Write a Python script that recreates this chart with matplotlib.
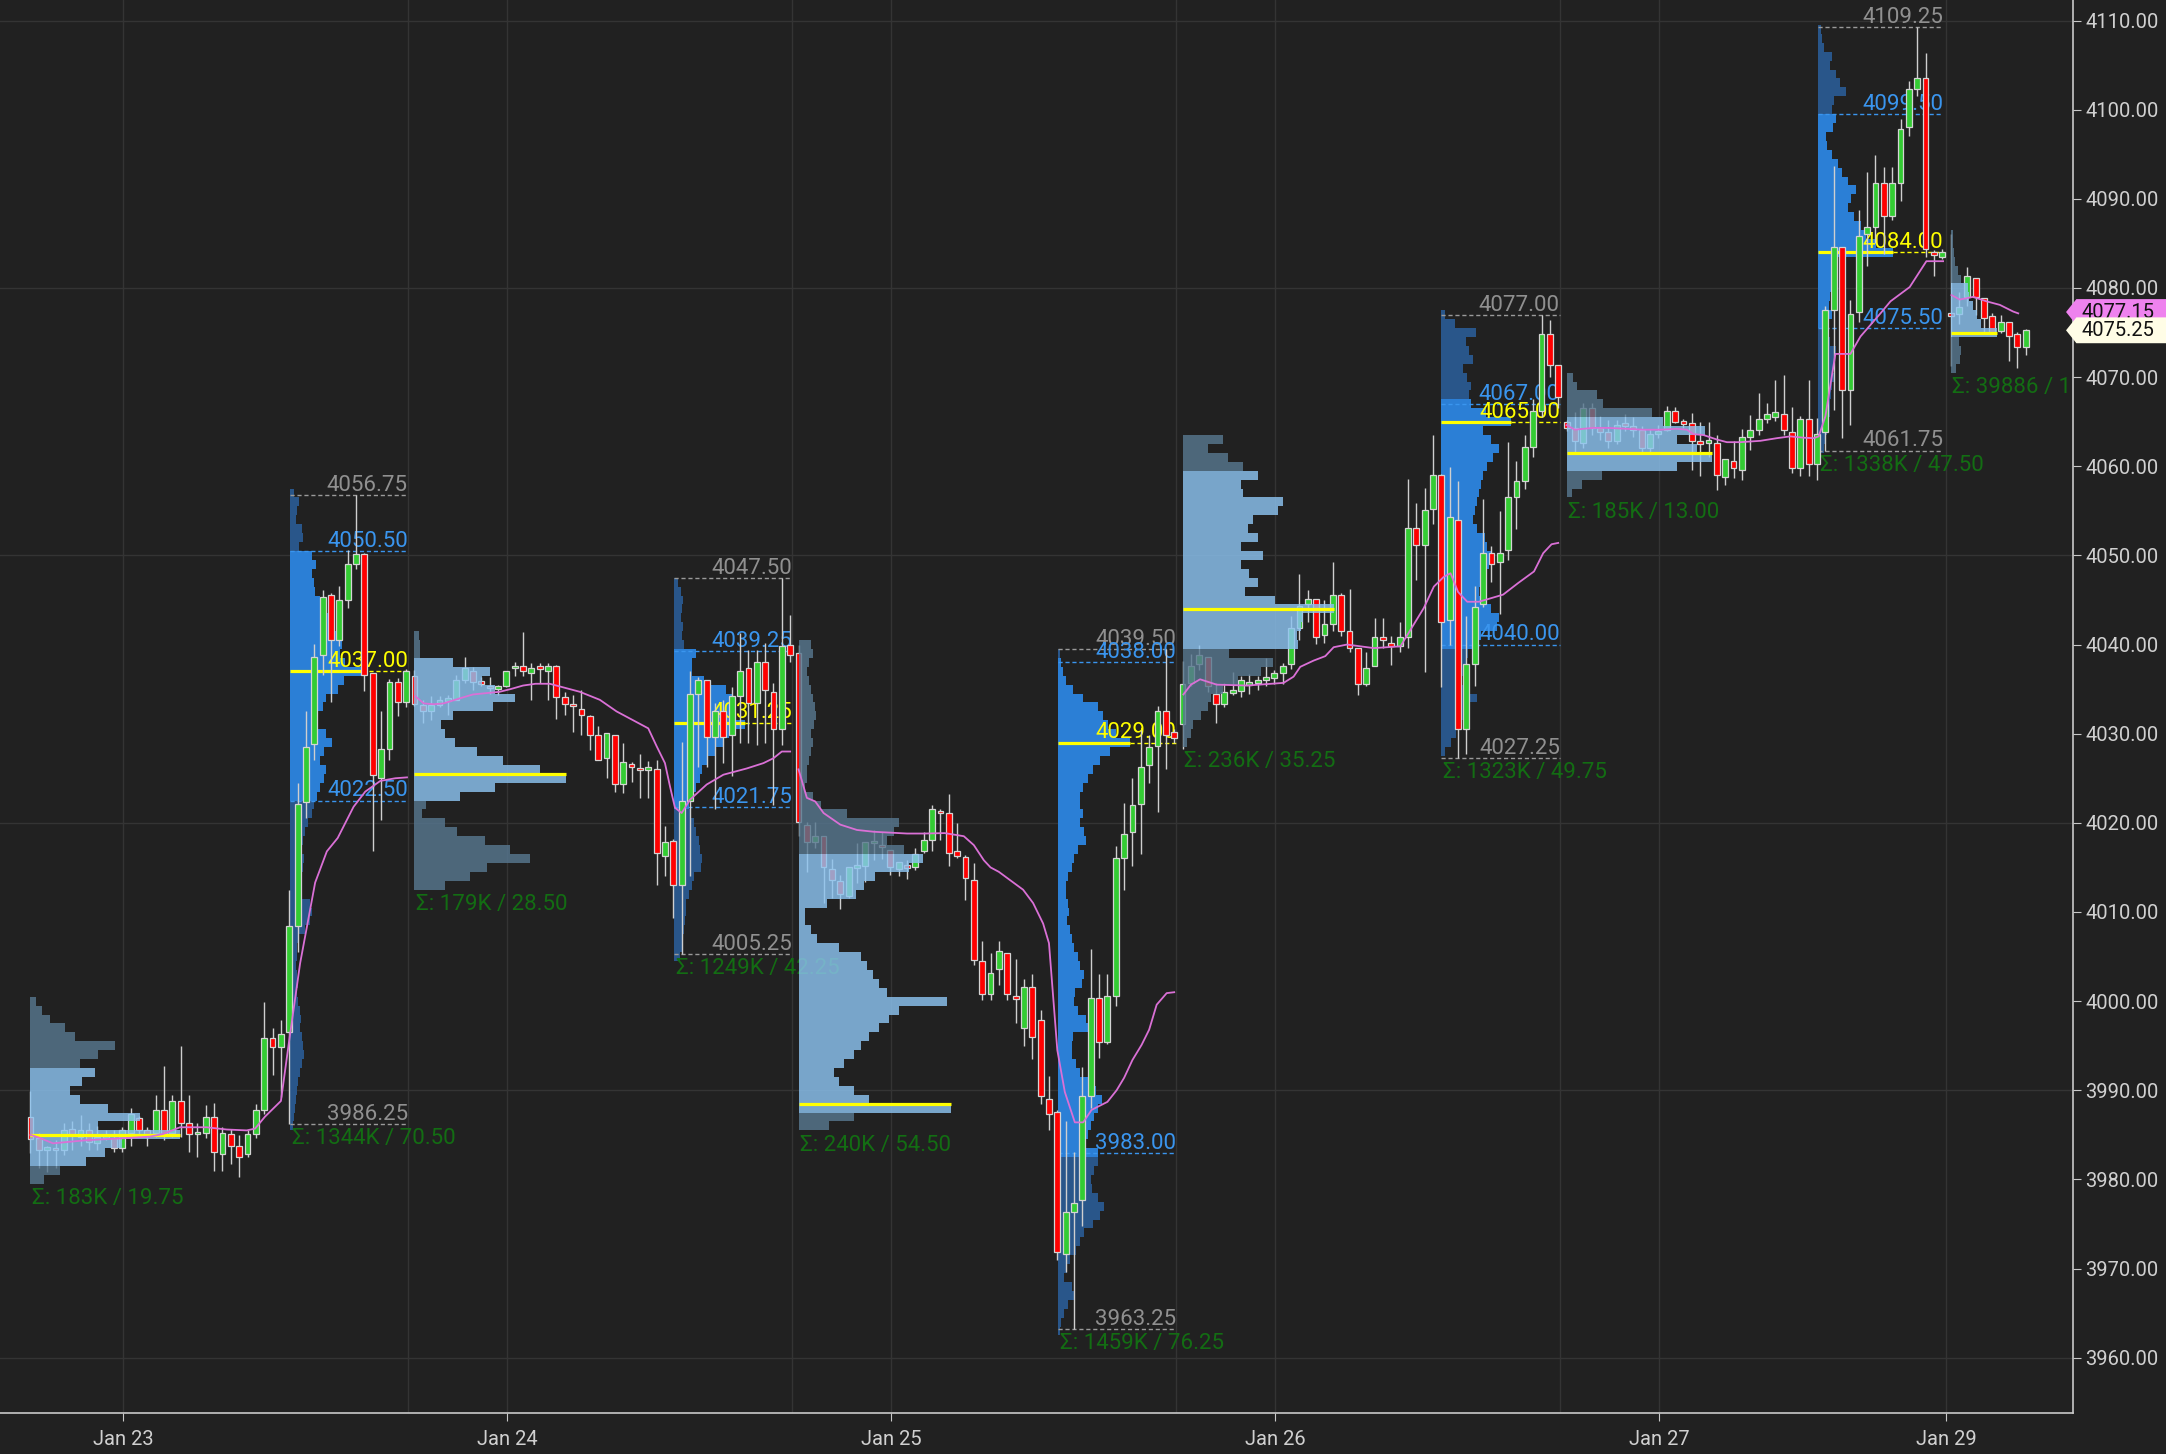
import matplotlib
matplotlib.use("Agg")
import matplotlib.pyplot as plt
import matplotlib.transforms as mtransforms
from matplotlib.patches import Polygon
import numpy as np

plt.rcParams['font.family'] = ['Roboto', 'DejaVu Sans']

# 30 minute bars, bar 0 = first bar of the Jan 22 evening session
opens = [
    # overnight Jan 22/23
    3987.0, 3984.7, 3983.4, 3983.5, 3983.3, 3985.7, 3984.8, 3985.55, 3984.1, 3984.8, 3984.7,
    3983.5, 3985.25, 3986.9, 3985.55, 3985.25, 3987.8, 3985.25, 3988.8, 3986.3, 3985.1, 3985.25,
    3987.0, 3982.8, 3985.1, 3983.8, 3982.8, 3985.1, 3987.8, 3995.85, 3994.85,
    # day Jan 23
    3996.5, 4008.4, 4022.3, 4028.8, 4038.8, 4045.55, 4040.55, 4045.05, 4049.0, 4050.2, 4036.8,
    4025.05, 4028.3, 4035.8, 4033.55,
    # overnight
    4036.5, 4033.2, 4032.6, 4033.2, 4033.8, 4033.8, 4036.0, 4037.0, 4035.85, 4035.4, 4035.0,
    4035.35, 4037.4, 4037.55, 4036.8, 4037.55, 4037.05, 4037.55, 4034.1, 4033.3, 4032.75, 4032.0,
    4029.9, 4027.25, 4029.9, 4024.4, 4026.6, 4026.2, 4026.05, 4026.0, 4016.3,
    # day Jan 24
    4018.0, 4013.0, 4022.4, 4034.5, 4036.0, 4029.6, 4032.5, 4029.9, 4034.2, 4037.35, 4033.4,
    4038.0, 4034.7, 4030.5, 4040.0,
    # overnight
    4039.0, 4019.8, 4017.8, 4018.5, 4014.8, 4013.5, 4011.8, 4015.0, 4015.2, 4017.8, 4017.5,
    4017.0, 4014.8, 4015.25, 4015.0, 4016.8, 4018.1, 4021.3, 4021.1, 4016.85, 4016.2, 4013.6,
    4004.55, 4000.8, 4003.6, 4005.4, 4000.5, 3997.0, 4001.6, 3997.85, 3989.0,
    # day Jan 25
    3987.6, 3971.6, 3976.4, 3977.65, 3989.4, 4000.3, 3995.4, 4000.55, 4016.1, 4018.95, 4022.1,
    4026.5, 4028.6, 4032.6, 4030.2,
    # overnight
    4031.1, 4035.7, 4037.8, 4038.6, 4034.5, 4033.3, 4034.6, 4034.8, 4035.6, 4035.7, 4036.0,
    4036.3, 4036.8, 4037.8, 4041.8, 4044.6, 4045.1, 4041.1, 4042.3, 4045.6, 4041.5, 4039.6,
    4035.55, 4037.6, 4040.8, 4040.2, 4039.85, 4040.8, 4053.05, 4051.2, 4055.2,
    # day Jan 26
    4059.0, 4042.7, 4054.0, 4030.5, 4037.8, 4044.5, 4050.25, 4049.3, 4050.6, 4056.5, 4058.3,
    4062.2, 4066.25, 4074.85, 4071.4,
    # overnight
    4065.0, 4064.3, 4062.6, 4066.5, 4064.3, 4063.8, 4062.8, 4064.8, 4064.5, 4064.1, 4062.0,
    4063.6, 4064.1, 4066.25, 4065.0, 4064.8, 4062.8, 4062.7, 4062.6, 4058.8, 4060.6, 4059.6,
    4063.3, 4064.1, 4065.3, 4065.5, 4065.9, 4063.8, 4059.8, 4065.3, 4060.3,
    # day Jan 27
    4063.8, 4077.5, 4084.6, 4068.6, 4077.3, 4086.0, 4086.8, 4091.75, 4088.1, 4091.75, 4098.0,
    4102.3, 4103.5, 4084.0, 4083.5,
    # Sunday evening
    4077.1, 4077.1, 4079.0, 4081.1, 4078.85, 4076.9, 4075.2, 4076.2, 4074.8, 4073.4,
]
highs = [
    3989.9, 3985.2, 3983.8, 3984.4, 3986.3, 3986.5, 3987.2, 3986.3, 3986.0, 3985.5, 3985.55,
    3985.9, 3988.0, 3987.1, 3985.85, 3989.5, 3992.7, 3989.5, 3995.0, 3989.5, 3986.3, 3988.4,
    3988.55, 3985.9, 3985.7, 3985.0, 3985.5, 3988.5, 3999.9, 3997.0, 3997.9,
    4012.5, 4024.5, 4032.55, 4040.05, 4046.1, 4045.8, 4046.55, 4050.6, 4056.75, 4050.3, 4036.8,
    4032.55, 4036.1, 4036.3, 4037.3,
    4037.2, 4033.8, 4034.2, 4034.2, 4034.35, 4036.6, 4038.65, 4037.5, 4036.4, 4036.4, 4035.5,
    4037.05, 4038.0, 4041.4, 4037.9, 4037.9, 4037.9, 4037.7, 4034.7, 4034.35, 4034.9, 4032.1,
    4030.9, 4030.05, 4029.9, 4028.9, 4026.8, 4027.7, 4026.9, 4027.1, 4019.65,
    4018.2, 4029.1, 4037.0, 4036.4, 4036.05, 4033.4, 4033.8, 4035.2, 4041.3, 4039.4, 4039.4,
    4040.15, 4035.7, 4047.5, 4043.3,
    4040.0, 4020.1, 4020.1, 4018.5, 4015.9, 4014.2, 4015.0, 4017.7, 4017.8, 4019.2, 4019.0,
    4017.0, 4015.6, 4015.8, 4017.2, 4019.0, 4022.0, 4021.6, 4023.25, 4020.0, 4016.4, 4015.5,
    4006.7, 4005.4, 4006.7, 4005.4, 4004.7, 4002.5, 4003.0, 3999.0, 3991.55,
    3987.8, 3986.5, 3983.1, 3992.6, 4005.8, 4003.0, 4003.0, 4017.4, 4022.2, 4025.0, 4030.4,
    4029.9, 4033.1, 4039.5, 4030.5,
    4038.2, 4038.95, 4039.9, 4038.6, 4035.7, 4035.7, 4036.9, 4036.5, 4036.7, 4036.5, 4038.5,
    4037.2, 4037.9, 4043.2, 4047.9, 4046.1, 4045.1, 4045.0, 4049.3, 4045.8, 4046.2, 4039.6,
    4039.2, 4042.95, 4042.95, 4041.0, 4042.5, 4058.6, 4055.85, 4057.6, 4063.5,
    4059.1, 4059.9, 4058.4, 4043.2, 4046.6, 4056.3, 4051.1, 4055.0, 4062.7, 4060.6, 4063.5,
    4067.5, 4077.0, 4076.4, 4071.4,
    4065.2, 4066.1, 4067.1, 4067.1, 4065.6, 4065.2, 4065.2, 4065.9, 4065.5, 4064.5, 4064.2,
    4064.6, 4066.8, 4066.6, 4065.3, 4066.0, 4065.0, 4065.0, 4063.5, 4060.8, 4062.8, 4064.2,
    4065.8, 4068.2, 4067.1, 4069.7, 4070.2, 4066.7, 4065.6, 4069.7, 4065.4,
    4078.0, 4093.7, 4084.6, 4078.7, 4088.7, 4093.0, 4094.9, 4093.6, 4093.6, 4098.9, 4103.2,
    4109.25, 4106.3, 4084.3, 4084.4,
    4086.0, 4079.6, 4082.4, 4081.1, 4078.85, 4077.2, 4077.0, 4076.2, 4075.1, 4075.4,
]
lows = [
    3983.0, 3981.3, 3980.8, 3981.3, 3982.75, 3983.3, 3983.7, 3983.3, 3983.3, 3984.4, 3983.1,
    3983.1, 3983.75, 3984.8, 3983.75, 3984.8, 3984.4, 3984.8, 3984.8, 3983.05, 3982.5, 3984.6,
    3980.9, 3981.0, 3981.75, 3980.25, 3982.5, 3984.6, 3987.3, 3991.75, 3989.3,
    3986.25, 4005.5, 4020.5, 4027.0, 4036.55, 4033.55, 4039.8, 4044.05, 4048.5, 4034.8, 4016.8,
    4020.3, 4027.0, 4032.0, 4033.0,
    4033.1, 4031.2, 4031.5, 4033.0, 4032.1, 4033.8, 4035.7, 4034.9, 4035.3, 4034.5, 4034.35,
    4035.2, 4036.5, 4036.5, 4033.8, 4035.7, 4033.8, 4031.7, 4032.1, 4030.2, 4029.9, 4028.2,
    4027.05, 4025.0, 4023.5, 4023.3, 4024.6, 4022.8, 4022.8, 4013.0, 4014.05,
    4009.3, 4005.25, 4014.0, 4026.3, 4026.3, 4021.6, 4026.7, 4025.2, 4028.9, 4028.9, 4028.7,
    4028.9, 4022.0, 4028.7, 4038.0,
    4018.5, 4014.5, 4017.2, 4011.0, 4011.55, 4010.3, 4011.55, 4013.2, 4013.4, 4015.85, 4015.9,
    4014.2, 4014.0, 4013.75, 4014.7, 4016.6, 4016.8, 4018.1, 4015.2, 4016.0, 4011.3, 4004.0,
    4000.1, 4000.1, 4001.8, 4000.1, 3997.5, 3995.0, 3993.5, 3988.5, 3985.6,
    3971.0, 3969.6, 3963.25, 3974.8, 3988.0, 3993.6, 3995.2, 3999.4, 4012.5, 4015.2, 4016.5,
    4024.5, 4021.2, 4026.0, 4028.9,
    4028.3, 4035.3, 4037.2, 4034.7, 4031.25, 4033.0, 4034.3, 4034.1, 4034.5, 4034.9, 4035.4,
    4035.6, 4035.6, 4037.3, 4040.5, 4042.5, 4040.1, 4040.2, 4041.5, 4041.0, 4039.2, 4034.3,
    4035.3, 4037.6, 4039.6, 4037.7, 4039.2, 4039.6, 4047.25, 4036.9, 4053.5,
    4035.2, 4040.0, 4027.25, 4027.7, 4035.4, 4044.2, 4047.0, 4043.4, 4049.5, 4053.0, 4057.5,
    4061.0, 4065.5, 4070.0, 4066.5,
    4064.0, 4061.5, 4062.0, 4063.5, 4062.9, 4062.0, 4062.5, 4063.9, 4063.3, 4061.5, 4061.6,
    4063.2, 4064.0, 4064.8, 4064.3, 4059.6, 4058.9, 4061.0, 4057.35, 4057.9, 4058.7, 4058.5,
    4061.8, 4063.5, 4064.9, 4065.1, 4063.5, 4059.2, 4058.9, 4058.9, 4058.5,
    4061.75, 4066.3, 4063.2, 4064.6, 4076.2, 4082.5, 4085.0, 4083.8, 4087.6, 4089.8, 4097.0,
    4101.5, 4083.5, 4081.3, 4083.2,
    4071.2, 4076.0, 4078.0, 4077.0, 4074.9, 4074.9, 4074.9, 4071.8, 4071.0, 4072.5,
]
closes = [
    3984.5, 3983.3, 3983.6, 3983.3, 3985.5, 3985.1, 3985.55, 3984.25, 3984.8, 3984.9, 3983.5,
    3985.55, 3987.35, 3985.55, 3985.0, 3987.8, 3985.1, 3988.8, 3986.3, 3985.1, 3985.3, 3987.0,
    3983.05, 3985.25, 3983.8, 3982.5, 3985.1, 3987.8, 3995.9, 3994.85, 3996.3,
    4008.4, 4022.1, 4028.5, 4038.55, 4045.3, 4040.55, 4045.05, 4049.0, 4050.2, 4036.55, 4025.4,
    4028.3, 4035.8, 4033.55, 4037.05,
    4033.35, 4032.55, 4033.2, 4033.8, 4033.9, 4036.0, 4037.35, 4035.85, 4035.6, 4035.1, 4035.3,
    4037.05, 4037.55, 4037.05, 4037.35, 4037.35, 4037.55, 4034.1, 4033.35, 4033.1, 4032.1, 4029.9,
    4027.05, 4030.05, 4024.4, 4026.8, 4026.3, 4025.9, 4026.2, 4016.6, 4017.8,
    4013.0, 4022.5, 4034.5, 4036.0, 4029.6, 4032.5, 4029.6, 4034.2, 4037.0, 4033.4, 4038.0,
    4034.85, 4030.5, 4039.8, 4038.8,
    4020.1, 4017.8, 4018.5, 4015.0, 4013.6, 4012.0, 4015.0, 4015.2, 4017.8, 4017.9, 4017.3,
    4015.0, 4015.6, 4015.0, 4016.5, 4018.1, 4021.5, 4021.1, 4016.6, 4016.3, 4013.8, 4004.6,
    4000.8, 4003.2, 4005.6, 4000.8, 4000.3, 4001.6, 3996.0, 3989.4, 3987.35,
    3971.85, 3976.4, 3977.4, 3989.35, 4000.3, 3995.4, 4000.55, 4016.0, 4018.8, 4022.0, 4026.3,
    4028.5, 4032.6, 4029.9, 4029.5,
    4035.6, 4037.6, 4038.8, 4035.3, 4033.3, 4034.7, 4034.8, 4036.0, 4035.7, 4036.0, 4036.4,
    4036.8, 4037.6, 4041.8, 4044.3, 4045.1, 4040.8, 4042.3, 4045.6, 4041.5, 4039.6, 4035.55,
    4037.35, 4040.8, 4040.6, 4039.85, 4040.8, 4053.05, 4051.2, 4055.07, 4059.0,
    4042.5, 4054.3, 4030.5, 4037.8, 4044.2, 4050.25, 4049.0, 4050.25, 4056.5, 4058.3, 4062.2,
    4066.2, 4074.85, 4071.4, 4067.75,
    4064.3, 4062.8, 4066.5, 4064.3, 4063.8, 4062.8, 4064.6, 4064.5, 4064.1, 4062.0, 4063.6,
    4063.9, 4066.25, 4065.0, 4064.8, 4062.8, 4062.6, 4062.8, 4059.0, 4060.8, 4059.8, 4063.3,
    4064.1, 4065.3, 4065.9, 4066.1, 4064.1, 4059.8, 4065.3, 4060.3, 4063.6,
    4077.5, 4084.6, 4068.6, 4077.1, 4085.8, 4086.8, 4091.75, 4088.1, 4091.75, 4097.8, 4102.3,
    4103.5, 4084.35, 4083.8, 4084.0,
    4076.9, 4077.9, 4081.3, 4079.0, 4076.6, 4075.0, 4076.2, 4074.6, 4073.4, 4075.25,
]

# session (VWAP-like) line, restarts every trading day
vwap_x = [
    [0, 1, 2.7, 6.7, 10.7, 14.3, 15.9, 17.9, 21.1, 23.5, 25.9, 26.9, 28.1, 30, 31, 32.3, 34.1,
     35.5, 36.8, 38.7, 40.1, 41.9, 43.7, 45.1],
    [46.1, 47.1, 48.3, 49.5, 51.2, 53, 56.2, 57.5, 59, 60.5, 62.2, 63.8, 65.8, 68.2, 70.2, 72.2,
     74, 75, 76, 76.6, 77.2, 78, 79, 81, 83, 85.8, 87.8, 89, 90, 91],
    [92, 93, 94, 95, 97, 99, 101, 103, 105, 107, 109.5, 111.8, 113, 114.2, 115, 116, 117.3, 118.9,
     120.1, 121.3, 122, 123, 123.9, 125.1, 126.1, 127.1, 129, 130.1, 131, 132, 133.1, 134, 134.9,
     136.1, 137],
    [138.1, 139, 140.1, 142.1, 145.7, 150.1, 151.3, 152.1, 153.7, 155.1, 156.1, 157.7, 160.9,
     164.1, 165.3, 166.9, 168.1, 169.3, 170.1, 171, 172.1, 173.5, 176.4, 178.2, 180.1, 181.2,
     182.2, 183],
    [184, 185, 186, 187.2, 189, 191.2, 193.2, 195.2, 197.2, 198.4, 199.2, 200.4, 202, 203.2,
     204.8, 207.2, 209.2, 210.8, 212.4, 213.6, 214.2, 215, 216.2, 218, 219.2, 220.4, 221.6,
     222.8, 225.1, 227.1, 229.1],
    [230.1, 231.1, 232.7, 234.3, 235.9, 237.5, 238.1],
]
vwap_y = [
    [3985.0, 3984.7, 3984.05, 3984.4, 3984.6, 3984.8, 3985.1, 3985.85, 3985.85, 3985.6, 3985.5,
     3985.7, 3987.05, 3988.8, 3995.65, 4004.25, 4013.3, 4016.8, 4018.3, 4021.8, 4023.5, 4024.7,
     4025.0, 4025.1],
    [4034.2, 4033.4, 4033.3, 4033.4, 4033.9, 4034.4, 4034.7, 4035.0, 4035.4, 4035.6, 4035.6,
     4035.2, 4034.7, 4033.8, 4032.5, 4031.5, 4030.6, 4028.6, 4026.7, 4024.1, 4021.7, 4021.1,
     4022.6, 4024.3, 4025.4, 4026.1, 4026.7, 4027.25, 4028.0, 4028.0],
    [4026.0, 4022.8, 4022.4, 4021.1, 4019.8, 4019.2, 4019.0, 4018.9, 4018.8, 4018.8, 4018.85,
     4018.5, 4017.5, 4015.8, 4015.0, 4014.5, 4013.6, 4012.5, 4011.0, 4008.7, 4006.5, 3994.5,
     3989.8, 3986.4, 3986.4, 3987.8, 3988.7, 3990.0, 3991.4, 3993.4, 3995.1, 3996.8, 3999.6,
     4000.9, 4001.0],
    [4034.4, 4035.5, 4036.1, 4035.5, 4035.4, 4035.7, 4036.4, 4037.5, 4038.2, 4038.7, 4039.7,
     4040.0, 4039.6, 4039.8, 4041.65, 4044.1, 4046.5, 4047.6, 4048.0, 4045.9, 4044.8, 4044.8,
     4045.6, 4046.9, 4048.2, 4050.25, 4051.25, 4051.4],
    [4064.6, 4064.1, 4064.2, 4064.3, 4064.3, 4064.2, 4064.1, 4064.1, 4064.2, 4064.1, 4063.6,
     4063.5, 4063.0, 4062.7, 4062.7, 4062.85, 4063.15, 4063.35, 4063.2, 4063.15, 4063.35,
     4065.6, 4072.6, 4072.6, 4074.55, 4075.85, 4077.15, 4078.5, 4080.1, 4083.0, 4083.0],
    [4079.2, 4078.7, 4079.0, 4078.5, 4078.1, 4077.35, 4077.15],
]

# volume profiles, one per session (ON = overnight, RTH = day session)
prof_kind = ['ON', 'RTH', 'ON', 'RTH', 'ON', 'RTH', 'ON', 'RTH', 'ON', 'RTH', 'ON']
prof_first = [0, 31.1, 46, 77.1, 92, 123.1, 138, 169, 184, 214.1, 230]
prof_last = [30, 45.2, 76, 91.2, 122, 137.2, 168, 183.2, 213, 229.1, 239]
prof_top = [4000, 4057, 4041, 4047, 4040, 4039, 4063, 4077, 4070, 4109, 4086]
# volume per 1 point price row, from top row downwards (relative units)
prof_vol = [
    [6, 12, 20, 35, 45, 85, 68, 50, 65, 52, 40, 50, 78, 110, 68, 150, 92, 75, 56, 30, 14],
    [4, 9, 7, 6, 12, 13, 9, 22, 26, 22, 24, 25, 30, 34, 40, 42, 46, 52, 50, 55, 72, 54, 48, 36,
     33, 28, 27, 36, 42, 34, 30, 36, 34, 30, 27, 24, 22, 18, 15, 13, 11, 14, 13, 11, 10, 12, 20,
     22, 20, 15, 9, 7, 7, 6, 7, 8, 7, 8, 10, 11, 10, 12, 13, 14, 12, 10, 8, 7, 6, 5, 4, 3],
    [5, 6, 6, 38, 75, 67, 80, 100, 78, 38, 26, 30, 40, 62, 88, 125, 151, 80, 45, 12, 8, 30, 42,
     70, 95, 115, 72, 55, 30],
    [4, 7, 9, 8, 7, 9, 8, 10, 22, 18, 18, 30, 52, 58, 55, 62, 71, 55, 50, 42, 34, 28, 26, 22, 18,
     15, 17, 20, 22, 25, 26, 28, 27, 20, 18, 15, 12, 12, 11, 10, 9, 8, 6],
    [12, 14, 10, 8, 10, 12, 14, 16, 17, 15, 12, 14, 12, 10, 8, 8, 6, 14, 22, 48, 100, 95, 88, 105,
     124, 110, 76, 65, 57, 28, 6, 6, 12, 18, 40, 62, 68, 74, 80, 88, 148, 100, 90, 80, 70, 62, 55,
     45, 35, 40, 55, 70, 152, 55, 30],
    [2, 3, 5, 8, 15, 25, 40, 45, 50, 58, 72, 52, 42, 35, 30, 25, 22, 22, 25, 22, 26, 28, 20, 16,
     14, 10, 8, 8, 10, 11, 9, 12, 14, 16, 20, 22, 26, 24, 17, 16, 20, 28, 30, 15, 14, 14, 18, 22,
     30, 38, 44, 40, 36, 33, 30, 28, 40, 40, 36, 33, 34, 40, 46, 42, 35, 26, 22, 18, 12, 9, 6, 14,
     16, 10, 6, 3, 2],
    [40, 25, 45, 60, 75, 58, 60, 100, 95, 70, 65, 75, 58, 80, 58, 66, 75, 62, 92, 151, 120, 118,
     114, 115, 46, 90, 78, 55, 40, 28, 25, 18, 10, 8, 4],
    [4, 14, 35, 25, 28, 32, 22, 26, 30, 28, 30, 45, 70, 42, 50, 58, 52, 46, 42, 40, 38, 36, 34, 32,
     36, 44, 46, 50, 48, 44, 40, 38, 44, 50, 58, 56, 40, 32, 27, 26, 22, 20, 28, 36, 28, 26, 20,
     15, 10, 4],
    [6, 10, 30, 36, 85, 96, 138, 110, 130, 145, 110, 35, 15, 5],
    [3, 4, 6, 14, 12, 18, 22, 28, 16, 14, 18, 15, 8, 9, 14, 20, 24, 30, 38, 33, 30, 36, 43, 48, 58,
     75, 20, 16, 14, 15, 12, 11, 14, 10, 9, 12, 18, 16, 15, 16, 14, 13, 12, 12, 10, 9, 8, 6],
    [2, 2, 3, 4, 7, 10, 17, 18, 22, 26, 30, 46, 8, 10, 9, 5],
]
prof_val = [3981.5, 4022.5, 4022.5, 4021.75, 3987.5, 3983.0, 4039.5, 4040.0, 4059.5, 4075.5, 4074.5]
prof_vah = [3992.5, 4050.5, 4038.5, 4039.25, 4016.5, 4038.0, 4059.5, 4067.0, 4065.5, 4099.5, 4080.5]
prof_poc = [3985.0, 4037.0, 4025.5, 4031.25, 3988.5, 4029.0, 4044.0, 4065.0, 4061.5, 4084.0, 4075.0]
prof_high = [None, 4056.75, None, 4047.50, None, 4039.50, None, 4077.00, None, 4109.25, None]
prof_low = [None, 3986.25, None, 4005.25, None, 3963.25, None, 4027.25, None, 4061.75, None]
prof_sigma = ["Σ: 183K / 19.75", "Σ: 1344K / 70.50", "Σ: 179K / 28.50", "Σ: 1249K / 42.25",
              "Σ: 240K / 54.50", "Σ: 1459K / 76.25", "Σ: 236K / 35.25", "Σ: 1323K / 49.75",
              "Σ: 185K / 13.00", "Σ: 1338K / 47.50", "Σ: 39886 / 15.00"]

date_pos = [11.1, 57.1, 103.1, 149.1, 195.1, 229.5]
date_lbl = ['Jan 23', 'Jan 24', 'Jan 25', 'Jan 26', 'Jan 27', 'Jan 29']
sess_lines = [45.2, 91.2, 137.2, 183.2]
price_ticks = list(range(3960, 4111, 10))
last_price = 4075.25
last_vwap = 4077.15

# styles
BG = '#212121'
GRID = '#343434'
AXC = '#c8c8c8'
UP = '#33cc33'
DN = '#ff0000'
RTH_VA, RTH_OUT = '#2b7fd6', '#29568a'
ON_VA, ON_OUT = '#8cc3f0', '#57778f'
ON_ALPHA = 0.82
PX_PER_BAR = 8.348   # profile units are screen pixels, one bar = 8.35 px
FS = 16

fig = plt.figure(figsize=(21.66, 14.54), dpi=100, facecolor=BG)
ax = fig.add_axes([0, 0.0282, 0.9571, 0.9718])
ax.set_facecolor(BG)
ax.set_xlim(-3.65, 244.67)
ax.set_ylim(3953.8, 4112.3)

# grid
for g in range(3960, 4111, 30):
    ax.axhline(g, color=GRID, lw=1.0, zorder=0)
for g in date_pos + sess_lines:
    ax.axvline(g, color=GRID, lw=1.0, zorder=0)

# profiles
for k, kind in enumerate(prof_kind):
    w = np.array(prof_vol[k], dtype=float) / PX_PER_BAR
    p = prof_top[k] - np.arange(len(w))
    inva = (p >= prof_val[k]) & (p <= prof_vah[k])
    x0, x1 = prof_first[k], prof_last[k]
    if kind == 'RTH':
        cols = np.where(inva, RTH_VA, RTH_OUT)
        ax.barh(p, w, left=x0, height=1.0, color=list(cols), linewidth=0, zorder=1)
        zl = 2
    else:
        cols = np.where(inva, ON_VA, ON_OUT)
        ax.barh(p, w, left=x0, height=1.0, color=list(cols), linewidth=0,
                alpha=ON_ALPHA, zorder=4)
        zl = 4.5
    wmax = w.max()
    poc = prof_poc[k]
    ax.plot([x0, x0 + wmax], [poc, poc], color='#ffff00', lw=2.3, zorder=zl,
            solid_capstyle='butt')
    if kind == 'RTH':
        ax.plot([x0 + wmax, x1], [poc, poc], color='#ffff00', lw=1.0, ls=(0, (3, 2)), zorder=2)
        for val, col in [(prof_high[k], '#9a9a9a'), (prof_low[k], '#9a9a9a'),
                         (prof_vah[k], '#3a95ee'), (prof_val[k], '#3a95ee')]:
            ax.plot([x0, x1], [val, val], color=col, lw=1.0, ls=(0, (3, 2)), zorder=2)
        for val, col in [(prof_high[k], '#909090'), (prof_vah[k], '#3a95ee'),
                         (poc, '#ffff00'), (prof_val[k], '#3a95ee'), (prof_low[k], '#909090')]:
            ax.annotate(f"{val:.2f}", (x1, val), xytext=(0, 3), textcoords='offset points',
                        ha='right', va='baseline', color=col, fontsize=FS, zorder=2.5)
        ybot = prof_low[k]
    else:
        ybot = p[-1] - 0.5
    ax.annotate(prof_sigma[k], (x0 + 0.2, ybot), xytext=(0, -3), textcoords='offset points',
                ha='left', va='top', color='#136d13', fontsize=FS, zorder=2.5,
                annotation_clip=False, clip_on=True)

# candles
o = np.array(opens)
h = np.array(highs)
l = np.array(lows)
c = np.array(closes)
x = np.arange(len(o))
ax.vlines(x, l, h, color='#cfcfcf', lw=1.0, zorder=3)
small = np.abs(c - o) < 0.3
body_h = np.where(small, 0.3, np.abs(c - o))
body_b = np.where(small, (o + c) / 2 - 0.15, np.minimum(o, c))
ax.bar(x, body_h, bottom=body_b, width=0.7, color=np.where(c >= o, UP, DN),
       edgecolor='#d4d4d4', linewidth=0.9, zorder=3.2)

# session line
for vx, vy in zip(vwap_x, vwap_y):
    ax.plot(vx, vy, color='#da70d6', lw=1.3, zorder=5)

# axes look
for s in ['top', 'left']:
    ax.spines[s].set_visible(False)
for s in ['right', 'bottom']:
    ax.spines[s].set_color(AXC)
    ax.spines[s].set_linewidth(1.2)
ax.yaxis.tick_right()
ax.set_yticks(price_ticks)
ax.set_yticklabels([f"{v:.2f}" for v in price_ticks])
ax.set_xticks(date_pos)
ax.set_xticklabels(date_lbl)
ax.tick_params(axis='y', colors=AXC, labelcolor='#d0d0d0', labelsize=14.5, length=6, pad=3)
ax.tick_params(axis='x', colors=AXC, labelcolor='#d0d0d0', labelsize=14.5, length=6, pad=6)

# price tags on the right axis (later tag sits on top of the earlier one)
tr = mtransforms.blended_transform_factory(ax.transAxes, ax.transData)


def price_tag(val, face, z, shift=0.0):
    half = 1.45
    yc = val + shift
    poly = Polygon([[0.9966, yc], [1.0016, yc + half], [1.05, yc + half],
                    [1.05, yc - half], [1.0016, yc - half]], closed=True, transform=tr,
                   facecolor=face, edgecolor='none', clip_on=False, zorder=z)
    ax.add_patch(poly)
    ax.text(1.004, yc, f"{val:.2f}", transform=tr, color='#111111', fontsize=14.5,
            ha='left', va='center', clip_on=False, zorder=z + 0.5)


price_tag(last_vwap, '#ee82ee', 10, shift=0.15)
price_tag(last_price, '#fffde6', 11)

fig.savefig('out.png', dpi=100, facecolor=BG)
